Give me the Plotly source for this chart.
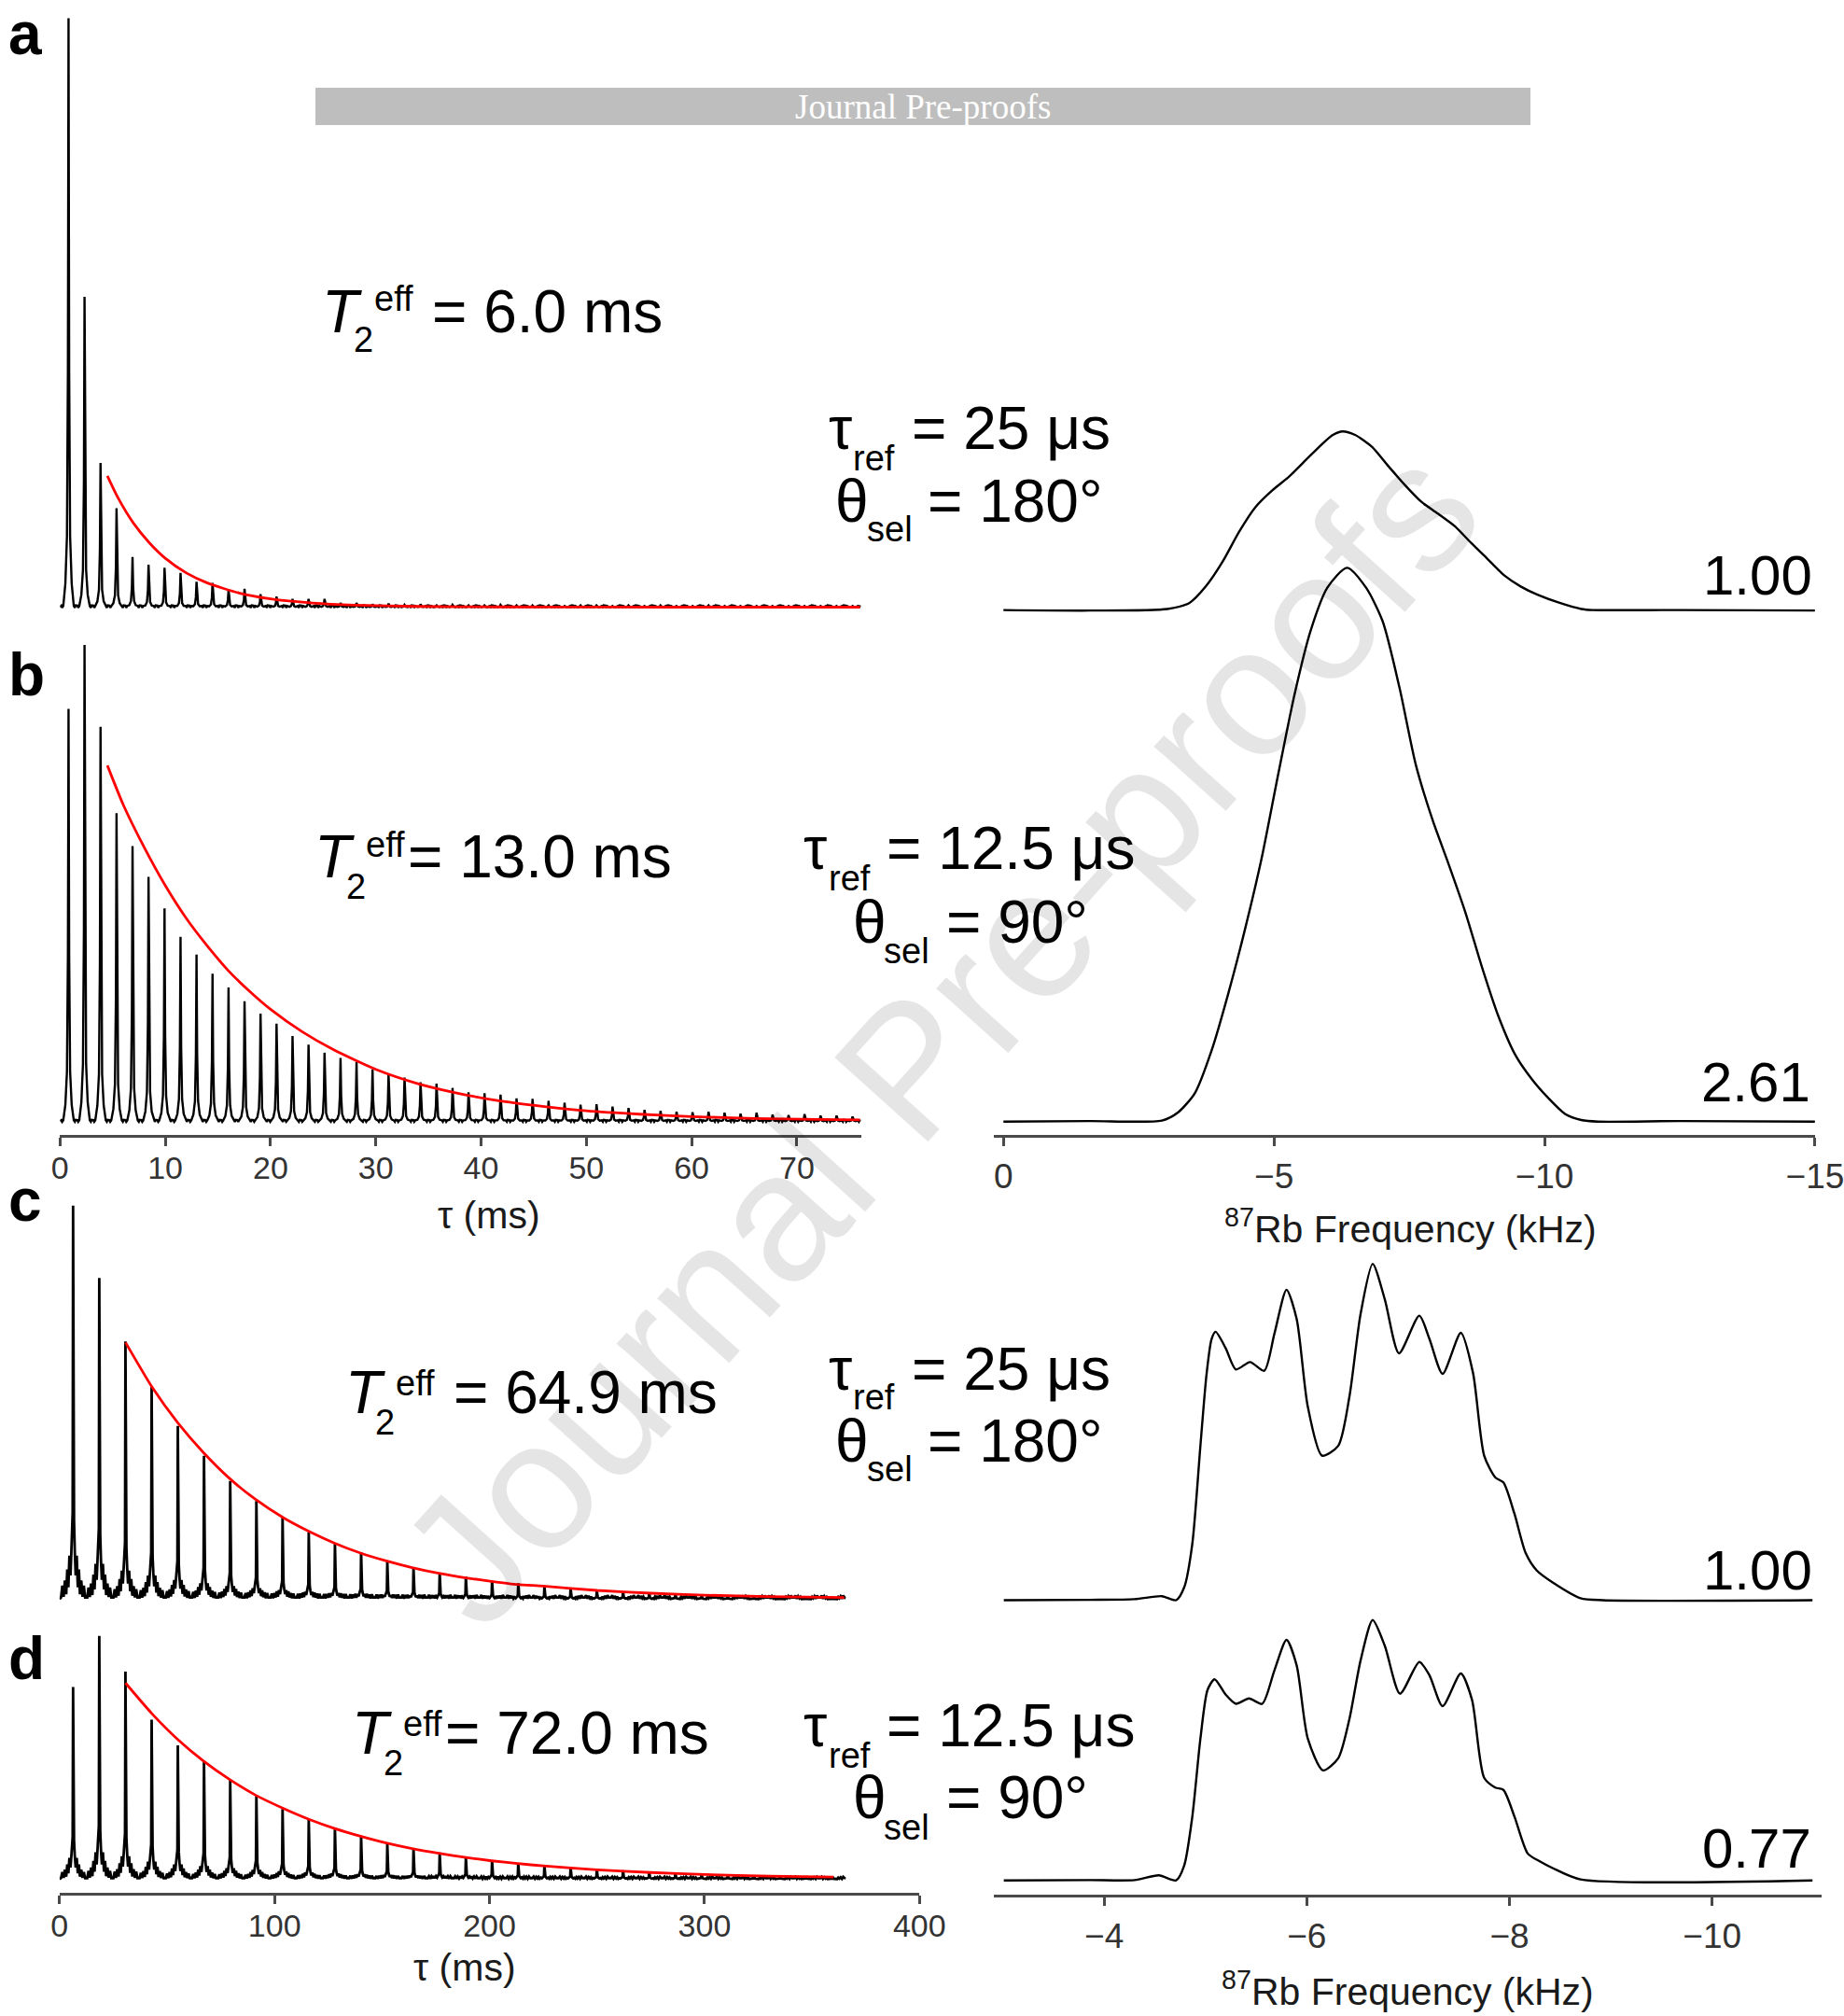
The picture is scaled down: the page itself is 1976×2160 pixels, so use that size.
import plotly.graph_objects as go

W, H = 1976, 2160
FONT = "Liberation Sans, Arial, Helvetica, sans-serif"

# ---------------- DATA ----------------
# Echo trains: echo positions (ms) and echo heights (% of the largest echo)
AB_FIRST_MS, AB_STEP_MS, AB_END_MS = 0.81, 1.52, 76.0
CD_FIRST_MS, CD_STEP_MS, CD_END_MS = 6.3, 12.18, 365.0

a_echo = [100, 52.7, 24.5, 16.8, 8.5, 7.2, 6.7, 5.8, 4.3, 4.1,
          3.0, 3.1, 2.2, 1.8, 1.4, 1.4, 1.4, 0.7, 0.7, 0.5,
          0.6, 0.4, 0.5, 0.3, 0.4, 0.3, 0.3, 0.4, 0.3, 0.3,
          0.3, 0.2, 0.3, 0.3, 0.2, 0.3, 0.2, 0.3, 0.2, 0.2,
          0.3, 0.2, 0.2, 0.2, 0.2, 0.2, 0.2, 0.2, 0.2, 0.2]
b_echo = [86.6, 100, 82.8, 64.7, 57.8, 51.3, 44.7, 38.7, 35.0, 31.0,
          28.1, 25.2, 22.6, 20.5, 17.9, 16.1, 14.4, 13.3, 12.4, 10.9,
          9.9, 9.2, 8.2, 7.9, 7.0, 6.1, 5.9, 5.6, 4.8, 4.7,
          4.3, 3.9, 3.5, 3.6, 3.1, 2.8, 2.4, 2.2, 2.0, 1.9,
          2.0, 1.8, 1.6, 1.8, 1.4, 1.3, 1.5, 1.2, 1.2, 1.0]
c_echo = [100, 81.6, 65.5, 54.1, 44.0, 36.4, 30.0, 24.9, 20.7, 17.0,
          14.1, 11.9, 9.6, 8.1, 6.7, 5.7, 4.7, 4.0, 3.2, 2.7,
          2.2, 1.9, 1.6, 1.3, 1.0, 0.8, 0.6, 0.5, 0.4, 0.3]
d_echo = [79.0, 100, 85.3, 65.5, 55.0, 48.6, 40.9, 34.5, 28.8, 24.6,
          21.0, 17.6, 14.7, 12.8, 10.9, 9.2, 7.7, 6.6, 5.6, 4.9,
          4.1, 3.6, 2.9, 2.6, 2.2, 1.8, 1.5, 1.3, 1.2, 1.0]

# Exponential fits (red)
a_fit_t = [4.5, 5.5, 7, 8.5, 10, 12, 14, 17, 20, 24, 28, 34, 42, 52, 64, 76]
a_fit_v = [22.3, 18.6, 14.2, 10.9, 8.3, 5.8, 4.1, 2.4, 1.4, 0.7, 0.35, 0.12, 0.04, 0.01, 0.0, 0.0]
b_fit_t = [4.5, 6, 8, 10, 12, 14, 16, 18, 20, 23, 26, 30, 34, 38, 42, 46, 50, 55, 60, 66, 72, 76]
b_fit_v = [74.7, 66.5, 57.5, 49.5, 42.6, 36.8, 31.6, 27.3, 23.5, 18.8, 15.0, 10.9, 7.9, 5.8,
           4.2, 3.1, 2.2, 1.5, 1.0, 0.6, 0.4, 0.3]
c_fit_t = [30.7, 43, 55, 67, 79, 91, 104, 116, 128, 140, 152, 164, 177, 189, 201, 213, 225,
           250, 275, 300, 330, 365]
c_fit_v = [65.2, 53.9, 44.8, 37.2, 30.7, 25.4, 20.7, 17.2, 14.2, 11.7, 9.7, 8.0, 6.5, 5.4,
           4.5, 3.7, 3.3, 2.2, 1.5, 1.0, 0.65, 0.38]
d_fit_t = [30.7, 43, 55, 67, 79, 91, 104, 116, 128, 140, 152, 164, 177, 189, 201, 213, 225,
           250, 275, 300, 330, 360]
d_fit_v = [80.6, 68.0, 57.4, 48.5, 41.0, 34.6, 29.1, 24.6, 20.8, 17.6, 14.8, 12.5, 10.5, 8.9,
           7.5, 6.4, 5.4, 3.8, 2.7, 1.9, 1.2, 0.8]

# 87Rb spectra (kHz, intensity)
ra_f = [0.0, -1.6, -3.03, -3.44, -3.74, -4.05, -4.36, -4.66, -4.97, -5.28, -5.58, -5.89, -6.09,
        -6.27, -6.5, -6.81, -7.11, -7.42, -7.72, -8.03, -8.34, -8.64, -8.95, -9.26, -9.56,
        -9.87, -10.28, -10.68, -10.89, -12.5, -15.0]
ra_v = [0.0, -0.003, 0.006, 0.04, 0.132, 0.27, 0.44, 0.577, 0.67, 0.747, 0.837, 0.929, 0.98,
        1.0, 0.98, 0.914, 0.807, 0.70, 0.607, 0.54, 0.47, 0.377, 0.285, 0.193, 0.132,
        0.086, 0.04, 0.006, 0.0, 0.0, -0.003]
rb_f = [0.0, -1.6, -2.93, -3.23, -3.54, -3.85, -4.15, -4.46, -4.77, -5.07, -5.38, -5.68, -5.99,
        -6.35, -6.70, -7.01, -7.32, -7.62, -7.93, -8.23, -8.54, -8.85, -9.15, -9.46, -9.77,
        -10.07, -10.38, -10.68, -10.99, -12.5, -15.0]
rb_v = [0.0, 0.003, 0.006, 0.052, 0.16, 0.40, 0.71, 1.07, 1.47, 1.93, 2.39, 2.75, 2.99,
        3.10, 2.99, 2.80, 2.43, 2.0, 1.69, 1.44, 1.17, 0.86, 0.589, 0.374, 0.236,
        0.132, 0.043, 0.009, 0.0, 0.003, 0.0]
rc_f = [-3.01, -3.86, -4.30, -4.57, -4.71, -4.79, -4.87, -4.95, -5.01, -5.06, -5.10, -5.20,
        -5.30, -5.44, -5.58, -5.68, -5.80, -5.90, -6.01, -6.15, -6.31, -6.42, -6.53, -6.65,
        -6.77, -6.91, -7.11, -7.21, -7.34, -7.52, -7.64, -7.75, -7.86, -7.94, -8.05, -8.16,
        -8.27, -8.43, -8.70, -8.92, -10.99]
rc_v = [0.0, 0.001, 0.003, 0.012, 0.0, 0.038, 0.167, 0.459, 0.67, 0.776, 0.798, 0.749,
        0.686, 0.708, 0.682, 0.792, 0.923, 0.836, 0.575, 0.430, 0.459, 0.604, 0.85, 1.0,
        0.894, 0.734, 0.846, 0.777, 0.673, 0.795, 0.676, 0.43, 0.365, 0.35, 0.256, 0.14,
        0.088, 0.052, 0.006, 0.0, 0.0]
rd_f = [-3.01, -3.86, -4.30, -4.54, -4.71, -4.79, -4.87, -4.95, -5.02, -5.09, -5.20, -5.30,
        -5.43, -5.56, -5.68, -5.80, -5.90, -6.01, -6.16, -6.31, -6.42, -6.53, -6.65, -6.77,
        -6.92, -7.11, -7.21, -7.34, -7.52, -7.63, -7.75, -7.86, -7.94, -8.05, -8.18, -8.29,
        -8.43, -8.70, -10.99]
rd_v = [0.0, 0.001, 0.001, 0.015, 0.0, 0.044, 0.189, 0.421, 0.566, 0.598, 0.552, 0.525,
        0.541, 0.525, 0.624, 0.715, 0.639, 0.421, 0.327, 0.363, 0.479, 0.653, 0.774, 0.697,
        0.555, 0.649, 0.610, 0.518, 0.615, 0.537, 0.305, 0.276, 0.269, 0.189, 0.080, 0.058,
        0.036, 0.003, 0.0]

left_ab_ticks = [0, 10, 20, 30, 40, 50, 60, 70]
left_cd_ticks = [0, 100, 200, 300, 400]
right_ab_ticks = [0, -5, -10, -15]
right_cd_ticks = [-4, -6, -8, -10]

scale_labels = ["1.00", "2.61", "1.00", "0.77"]
t2_values = ["= 6.0 ms", "= 13.0 ms", "= 64.9 ms", "= 72.0 ms"]
tau_values = ["= 25 μs", "= 12.5 μs", "= 25 μs", "= 12.5 μs"]
theta_values = ["= 180°", "= 90°", "= 180°", "= 90°"]

# ---------------- STYLE: echo line shapes (offset in ms, relative height, baseline ripple) ----
NARROW_OFF = [-0.68, -0.6, -0.5, -0.3, -0.15, -0.06, 0, 0.06, 0.15, 0.3, 0.5, 0.6, 0.68]
NARROW_PROF = [0, 0, 0, 0.04, 0.12, 0.4, 1, 0.4, 0.12, 0.04, 0, 0, 0]
NARROW_RIP = [0.25, -0.1, 0.2, 0, 0, 0, 0, 0, 0, 0, 0.2, -0.1, 0.3]
WIDE_OFF = [-5.6, -5.0, -4.4, -3.8, -3.2, -2.7, -2.2, -1.7, -1.2, -0.8, -0.45, -0.2, 0,
            0.2, 0.45, 0.8, 1.2, 1.7, 2.2, 2.7, 3.2, 3.8, 4.4, 5.0, 5.6]
WIDE_PROF = [0, 0.025, 0.005, 0.04, 0.01, 0.07, 0.03, 0.11, 0.06, 0.12, 0.2, 0.22, 1,
             0.22, 0.2, 0.12, 0.06, 0.11, 0.03, 0.07, 0.01, 0.04, 0.005, 0.025, 0]
WIDE_RIP = [0.4, 0.9, 0.1, 0.7, 0.2, 0.5, 0, 0, 0, 0, 0, 0, 0,
            0, 0, 0, 0, 0, 0, 0.5, 0.2, 0.7, 0.1, 0.9, 0.4]


def echo_train(first, step, heights, off, prof, rip, t_end):
    xs, ys = [0.0], [0.0]
    for k, h in enumerate(heights):
        t = first + step * k
        for o, p, r in zip(off, prof, rip):
            xs.append(t + o)
            ys.append(h * p + r)
    xs.append(t_end)
    ys.append(0.0)
    return xs, ys


# ---------------- LAYOUT GEOMETRY (pixels) ----------------
panels = {
    "la": dict(xp=(64.3, 922.7), xr=(0, 76.1), yp=(10, 665), base=650.5, ppu=6.31),
    "lb": dict(xp=(64.3, 922.7), xr=(0, 76.1), yp=(680, 1216), base=1201.4, ppu=5.104),
    "lc": dict(xp=(63.8, 985.3), xr=(0, 400), yp=(1275, 1722), base=1713.3, ppu=4.216),
    "ld": dict(xp=(63.8, 985.3), xr=(0, 400), yp=(1738, 2028.3), base=2013.3, ppu=2.606),
    "ra": dict(xp=(1064.8, 1944.9), xr=(0.18, -15.0), yp=(440, 680), base=653.6, ppu=191.4),
    "rb": dict(xp=(1064.8, 1944.9), xr=(0.18, -15.0), yp=(590, 1216.4), base=1201.7, ppu=191.4),
    "rc": dict(xp=(1064.8, 1952.0), xr=(-2.91, -11.08), yp=(1340, 1730), base=1714.5, ppu=360.4),
    "rd": dict(xp=(1064.8, 1952.0), xr=(-2.91, -11.08), yp=(1720, 2030.4), base=2014.7, ppu=360.4),
}
order = ["la", "lb", "lc", "ld", "ra", "rb", "rc", "rd"]
visible_axes = {"lb": left_ab_ticks, "ld": left_cd_ticks, "rb": right_ab_ticks, "rd": right_cd_ticks}

fig = go.Figure()
layout_axes = {}
ax_ids = {}
for i, name in enumerate(order, start=1):
    p = panels[name]
    xk = "xaxis" if i == 1 else f"xaxis{i}"
    yk = "yaxis" if i == 1 else f"yaxis{i}"
    xid = "x" if i == 1 else f"x{i}"
    yid = "y" if i == 1 else f"y{i}"
    ax_ids[name] = (xid, yid)
    top, bot = p["yp"]
    yr = [(p["base"] - bot) / p["ppu"], (p["base"] - top) / p["ppu"]]
    xa = dict(domain=[p["xp"][0] / W, p["xp"][1] / W], range=list(p["xr"]), anchor=yid,
              showgrid=False, zeroline=False, fixedrange=True, automargin=False)
    if name in visible_axes:
        is_right = name.startswith("r")
        xa.update(showline=True, linecolor="#4a4a4a", linewidth=2.5, ticks="outside",
                  ticklen=9, tickwidth=2.5, tickcolor="#4a4a4a",
                  tickvals=visible_axes[name], ticklabeloverflow="allow",
                  tickfont=dict(family=FONT, size=37 if is_right else 34, color="#333333"),
                  ticklabelstandoff=0 if is_right else -6)
    else:
        xa.update(visible=False)
    ya = dict(domain=[1 - bot / H, 1 - top / H], range=yr, anchor=xid, visible=False,
              fixedrange=True, automargin=False)
    layout_axes[xk] = xa
    layout_axes[yk] = ya

# ---------------- TRACES ----------------
trains = [("la", AB_FIRST_MS, AB_STEP_MS, a_echo, NARROW_OFF, NARROW_PROF, NARROW_RIP, AB_END_MS, 2.4),
          ("lb", AB_FIRST_MS, AB_STEP_MS, b_echo, NARROW_OFF, NARROW_PROF, NARROW_RIP, AB_END_MS, 2.4),
          ("lc", CD_FIRST_MS, CD_STEP_MS, c_echo, WIDE_OFF, WIDE_PROF, WIDE_RIP, CD_END_MS, 2.8),
          ("ld", CD_FIRST_MS, CD_STEP_MS, d_echo, WIDE_OFF, WIDE_PROF, WIDE_RIP, CD_END_MS, 2.8)]
fits = {"la": (a_fit_t, a_fit_v), "lb": (b_fit_t, b_fit_v),
        "lc": (c_fit_t, c_fit_v), "ld": (d_fit_t, d_fit_v)}
for name, first, step, hts, off, prof, rip, tend, lw in trains:
    xs, ys = echo_train(first, step, hts, off, prof, rip, tend)
    xid, yid = ax_ids[name]
    fig.add_trace(go.Scatter(x=xs, y=ys, mode="lines", xaxis=xid, yaxis=yid,
                             line=dict(color="black", width=lw), hoverinfo="skip"))
    ft, fv = fits[name]
    fig.add_trace(go.Scatter(x=ft, y=fv, mode="lines", xaxis=xid, yaxis=yid,
                             line=dict(color="#ff0000", width=2.8, shape="spline", smoothing=0.6),
                             hoverinfo="skip"))

spectra = {"ra": (ra_f, ra_v), "rb": (rb_f, rb_v), "rc": (rc_f, rc_v), "rd": (rd_f, rd_v)}
for name, (f, v) in spectra.items():
    xid, yid = ax_ids[name]
    fig.add_trace(go.Scatter(x=f, y=v, mode="lines", xaxis=xid, yaxis=yid,
                             line=dict(color="black", width=2.4, shape="spline", smoothing=0.7),
                             hoverinfo="skip"))

# ---------------- TEXT ----------------
annotations = []


def text(s, x, baseline, size, xanchor="left", color="black", family=FONT, angle=0):
    annotations.append(dict(text=s, x=x / W, y=1 - (baseline - 0.35 * size) / H,
                            xref="paper", yref="paper", xanchor=xanchor, yanchor="middle",
                            showarrow=False, textangle=angle,
                            font=dict(family=family, size=size, color=color)))


BIG, SMALL = 64, 38
t2_pos = [(343, 356.4, 377, 377.7, 399, 333.5, 461),
          (334.5, 940, 368.5, 963, 390, 918, 435),
          (367.8, 1514.7, 400, 1537.5, 422, 1495.4, 484),
          (374.7, 1879.6, 408.5, 1902.4, 430, 1860.4, 475.4)]
for val, (tx, tb, sx, sb, ex, eb, vx) in zip(t2_values, t2_pos):
    text("<i>T</i>", tx, tb, BIG)
    text("2", sx, sb, SMALL)
    text("eff", ex, eb, SMALL)
    text(val, vx, tb, BIG)

pulse_pos = [(885.7, 481, 911.5, 504, 974.7, 893, 559.7, 927, 580, 992),
             (858.7, 931.6, 885.7, 954.6, 947.7, 911.5, 1010.8, 944.8, 1032, 1012),
             (885.7, 1489.5, 911.5, 1510.6, 974.7, 893, 1566.6, 927, 1587.3, 992),
             (858.7, 1871.3, 885.7, 1894, 947.7, 911.5, 1948, 945, 1970.8, 1012)]
for tv, thv, (ax_, ab, rx, rb_, vx, qx, qb, sx, sb, wx) in zip(tau_values, theta_values, pulse_pos):
    text("τ", ax_, ab, BIG)
    text("ref", rx, rb_, SMALL)
    text(tv, vx, ab, BIG)
    text("θ", qx, qb, BIG)
    text("sel", sx, sb, SMALL)
    text(thv, wx, qb, BIG)

scale_pos = [(1944, 638), (1942, 1180.7), (1944, 1703.5), (1943, 2001.6)]
for s, (x, b) in zip(scale_labels, scale_pos):
    text(s, x, b, 60, xanchor="right")

for s, (x, b) in zip(["a", "b", "c", "d"], [(7, 58), (7, 745), (7, 1308), (7, 1799)]):
    text(f"<b>{s}</b>", x, b, 64)

for x, yc in [(524, 1302), (498, 2108)]:
    annotations.append(dict(text="τ (ms)", x=x / W, y=1 - yc / H, xref="paper", yref="paper",
                            xanchor="center", yanchor="middle", showarrow=False,
                            font=dict(family=FONT, size=41, color="#1a1a1a")))
for x, yc in [(1511, 1314), (1508, 2131)]:
    annotations.append(dict(text="<sup>87</sup>Rb Frequency (kHz)", x=x / W, y=1 - yc / H,
                            xref="paper", yref="paper", xanchor="center", yanchor="middle",
                            showarrow=False, font=dict(family=FONT, size=41, color="#1a1a1a")))

annotations.append(dict(text="Journal Pre-proofs", x=989 / W, y=1 - 114 / H, xref="paper",
                        yref="paper", xanchor="center", yanchor="middle", showarrow=False,
                        font=dict(family="Liberation Serif, Times New Roman, serif", size=37,
                                  color="white")))
annotations.append(dict(text="Journal Pre-proofs", x=1006 / W, y=1 - 1109 / H, xref="paper",
                        yref="paper", xanchor="center", yanchor="middle", showarrow=False,
                        textangle=-48,
                        font=dict(family=FONT, size=196, color="rgba(0,0,0,0.1)")))

shapes = [dict(type="rect", xref="paper", yref="paper", x0=338 / W, x1=1640 / W,
               y0=1 - 134 / H, y1=1 - 94 / H, fillcolor="#bebebe", line=dict(width=0),
               layer="below")]

fig.update_layout(width=W, height=H, autosize=False, margin=dict(l=0, r=0, t=0, b=0, pad=0),
                  paper_bgcolor="white", plot_bgcolor="rgba(0,0,0,0)",
                  showlegend=False, annotations=annotations, shapes=shapes,
                  font=dict(family=FONT), **layout_axes)

fig.write_html("out.html", config={"displayModeBar": False, "responsive": False},
               post_script="document.body.style.margin='0px';")
